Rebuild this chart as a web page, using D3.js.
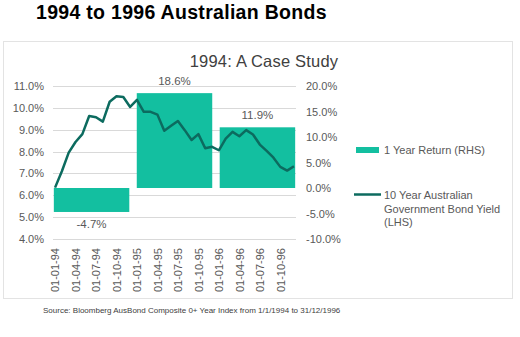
<!DOCTYPE html>
<html>
<head>
<meta charset="utf-8">
<script src="https://cdn.jsdelivr.net/npm/d3@7"></script>
<style>
  body { margin: 0; background: #fff; }
  text { font-family: "Liberation Sans", Arial, sans-serif; }
</style>
</head>
<body>
<div id="chart"></div>
<script>
// monthly dates (dd-mm-yy) and 10 year bond yield, %
var months = [];
["94", "95", "96"].forEach(function(y) {
  for (var m = 1; m <= 12; m++) months.push("01-" + (m < 10 ? "0" + m : m) + "-" + y);
});
var bondYield = [6.35, 7.1, 7.95, 8.44, 8.8, 9.63, 9.57, 9.37, 10.28, 10.53, 10.5, 10.04,
                 10.37, 9.82, 9.82, 9.69, 8.95, 9.18, 9.4, 8.98, 8.53, 8.8, 8.15, 8.22,
                 8.06, 8.59, 8.9, 8.7, 8.98, 8.78, 8.32, 8.03, 7.72, 7.3, 7.13, 7.33];

// 1 year return, %
var years = ["1994", "1995", "1996"];
var yearReturn = [-4.7, 18.6, 11.9];

var leftTicks = [4, 5, 6, 7, 8, 9, 10, 11];
var rightTicks = [-10, -5, 0, 5, 10, 15, 20];
var xTickLabels = months.filter(function(d, i) { return i % 3 === 0; });

var barColor = "#13bfa0";
var lineColor = "#0c6b5f";
var textColor = "#595959";

var svg = d3.select("#chart")
  .append("svg")
  .attr("width", 520)
  .attr("height", 337);

svg.append("rect").attr("width", 520).attr("height", 337).attr("fill", "#fff");

// page title
svg.append("text")
  .attr("x", 36).attr("y", 19)
  .attr("font-size", 19.5).attr("font-weight", "bold")
  .attr("letter-spacing", 0.3)
  .attr("fill", "#000")
  .text("1994 to 1996 Australian Bonds");

// chart frame
svg.append("rect")
  .attr("x", 3.5).attr("y", 41.5)
  .attr("width", 509).attr("height", 257)
  .attr("fill", "#fff").attr("stroke", "#e3e3e3");

svg.append("text")
  .attr("x", 264).attr("y", 67)
  .attr("text-anchor", "middle")
  .attr("font-size", 16.5).attr("fill", "#404040")
  .attr("letter-spacing", 0.2)
  .text("1994: A Case Study");

// scales
var yLeft = d3.scaleLinear().domain([4, 11]).range([239, 86]);
var yRight = d3.scaleLinear().domain([-10, 20]).range([239, 86]);
var xMonth = d3.scalePoint().domain(months).range([53, 296]).padding(0.3);
var xYear = d3.scaleBand().domain(years).range([53, 296]).paddingInner(0.09).paddingOuter(0.01);

// gridlines
svg.append("g")
  .selectAll("line")
  .data(leftTicks)
  .enter()
  .append("line")
  .attr("x1", 53).attr("x2", 296)
  .attr("y1", function(d) { return Math.round(yLeft(d)) + 0.5; })
  .attr("y2", function(d) { return Math.round(yLeft(d)) + 0.5; })
  .attr("stroke", "#d9d9d9");

// axes
var leftAxis = svg.append("g")
  .attr("transform", "translate(44,0)")
  .call(d3.axisLeft(yLeft).tickValues(leftTicks).tickSize(0).tickPadding(0)
    .tickFormat(function(d) { return d.toFixed(1) + "%"; }));

var rightAxis = svg.append("g")
  .attr("transform", "translate(306,0)")
  .call(d3.axisRight(yRight).tickValues(rightTicks).tickSize(0).tickPadding(0)
    .tickFormat(function(d) { return d.toFixed(1) + "%"; }));

var bottomAxis = svg.append("g")
  .attr("transform", "translate(0,245)")
  .call(d3.axisBottom(xMonth).tickValues(xTickLabels).tickSize(0).tickPadding(0));

bottomAxis.selectAll("text")
  .attr("transform", "rotate(-90)")
  .attr("text-anchor", "end")
  .attr("x", -3).attr("y", 0)
  .attr("dy", "0.35em");

[leftAxis, rightAxis, bottomAxis].forEach(function(a) {
  a.select(".domain").remove();
  a.selectAll("text")
    .attr("font-family", "'Liberation Sans', Arial, sans-serif")
    .attr("font-size", 11)
    .attr("fill", textColor);
});

// bars
svg.append("g")
  .selectAll("rect")
  .data(years)
  .enter()
  .append("rect")
  .attr("x", function(d) { return xYear(d); })
  .attr("width", xYear.bandwidth())
  .attr("y", function(d, i) { return yRight(Math.max(0, yearReturn[i])); })
  .attr("height", function(d, i) { return Math.abs(yRight(yearReturn[i]) - yRight(0)); })
  .attr("fill", barColor);

svg.append("g")
  .selectAll("text")
  .data(years)
  .enter()
  .append("text")
  .attr("x", function(d) { return xYear(d) + xYear.bandwidth() / 2; })
  .attr("y", function(d, i) {
    var v = yearReturn[i];
    return v >= 0 ? yRight(v) - 8 : yRight(v) + 16;
  })
  .attr("text-anchor", "middle")
  .attr("font-size", 11.5)
  .attr("fill", textColor)
  .text(function(d, i) { return yearReturn[i].toFixed(1) + "%"; });

// yield line
var line = d3.line()
  .x(function(d, i) { return xMonth(months[i]); })
  .y(function(d) { return yLeft(d); });

svg.append("path")
  .datum(bondYield)
  .attr("d", line)
  .attr("fill", "none")
  .attr("stroke", lineColor)
  .attr("stroke-width", 2.5)
  .attr("stroke-linejoin", "round");

// legend
var legend = svg.append("g");
legend.append("rect")
  .attr("x", 356).attr("y", 147)
  .attr("width", 23).attr("height", 6)
  .attr("fill", barColor);
legend.append("text")
  .attr("x", 384).attr("y", 154)
  .attr("font-size", 11).attr("fill", textColor)
  .text("1 Year Return (RHS)");
legend.append("line")
  .attr("x1", 354).attr("x2", 381)
  .attr("y1", 194.5).attr("y2", 194.5)
  .attr("stroke", lineColor).attr("stroke-width", 2.5);
legend.append("text")
  .attr("x", 384).attr("y", 199)
  .attr("font-size", 11).attr("fill", textColor)
  .selectAll("tspan")
  .data(["10 Year Australian", "Government Bond Yield", "(LHS)"])
  .enter()
  .append("tspan")
  .attr("x", 384)
  .attr("dy", function(d, i) { return i === 0 ? 0 : 13.5; })
  .text(function(d) { return d; });

// source note
svg.append("text")
  .attr("x", 43).attr("y", 313)
  .attr("font-size", 8).attr("fill", "#404040")
  .text("Source:  Bloomberg AusBond Composite 0+ Year Index from 1/1/1994 to 31/12/1996");
</script>
</body>
</html>
